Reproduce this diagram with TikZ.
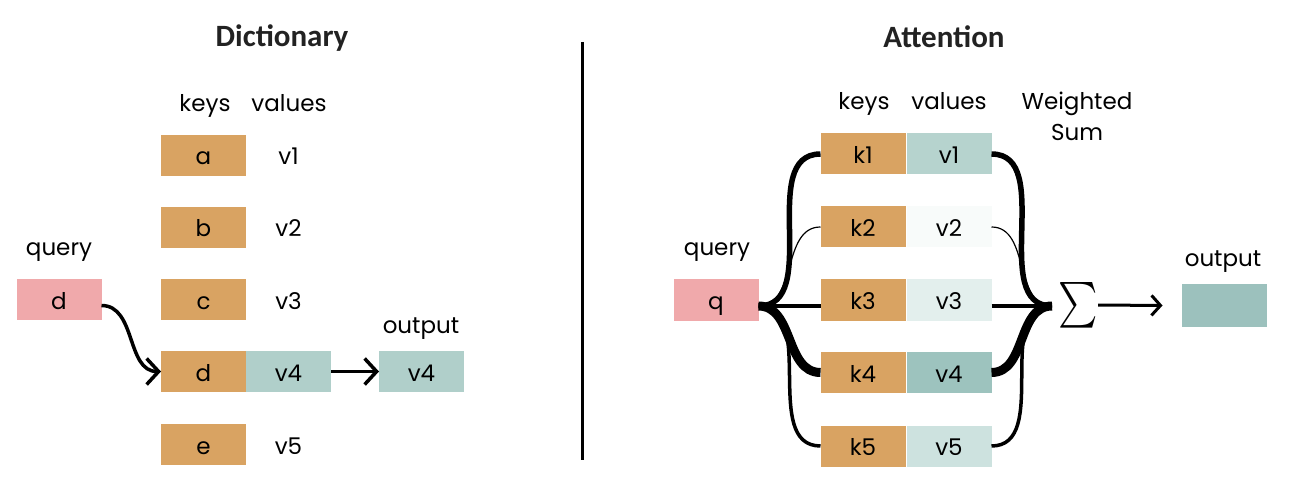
\documentclass[tikz,border=0pt]{standalone}
\usepackage{amsmath}
\usepackage{fontspec}
\setmainfont{Poppins}
\newfontfamily\titlefont{Carlito}
\usetikzlibrary{arrows.meta, positioning, calc}

\definecolor{keycol}{HTML}{D9A362}
\definecolor{querycol}{HTML}{F0A9AB}
\definecolor{valcol}{HTML}{B0CFCA}
\definecolor{vala}{HTML}{B6D3CE}
\definecolor{valb}{HTML}{F8FBFA}
\definecolor{valc}{HTML}{E3EFED}
\definecolor{vald}{HTML}{9DC3BE}
\definecolor{vale}{HTML}{CDE2DF}
\definecolor{outcol}{HTML}{9CC1BD}
\definecolor{titlecol}{HTML}{222222}

\begin{document}
\begin{tikzpicture}[x=1pt, y=-1pt,
    lbl/.style={font=\fontsize{23}{27}\selectfont},
    box/.style={lbl, minimum width=85pt, minimum height=41pt, inner sep=0pt, outer sep=0pt, text height=19pt, text depth=0pt},
    hd/.style={lbl, anchor=base},
    ttl/.style={font=\titlefont\bfseries\fontsize{31}{35}\selectfont, text=titlecol, anchor=base},
    arr/.style={-{Straight Barb[length=12pt, width=26pt]}, line width=3.5pt}]
    \useasboundingbox (0,0) rectangle (1295,478);
    % Dictionary
    \node[ttl] (dtitle) at (282,47) {Dictionary};
    \node[hd] (dkeys) at (205,112) {keys}; \node[hd] (dvals) at (289,112) {values};
    \node[box, fill=keycol] (da) at (203.5,155.5) {a}; \node[box] (dv1) at (288.5,155.5) {v1};
    \node[box, fill=keycol] (db) at (203.5,227.5) {b}; \node[box] (dv2) at (288.5,227.5) {v2};
    \node[box, fill=keycol] (dc) at (203.5,299.5) {c}; \node[box] (dv3) at (288.5,299.5) {v3};
    \node[box, fill=keycol] (dd) at (203.5,371.5) {d}; \node[box, fill=valcol] (dv4) at (288.5,371.5) {v4};
    \node[box, fill=keycol] (de) at (203.5,444.5) {e}; \node[box] (dv5) at (288.5,444.5) {v5};
    \node[hd] (dqlbl) at (59,255) {query}; \node[box, fill=querycol] (dq) at (59,299.5) {d};
    \node[hd] (dolbl) at (421,333) {output}; \node[box, fill=valcol] (dout) at (421.5,371.5) {v4};
    \draw[arr] ([yshift=-6pt]dq.east) to[out=0, in=180] (dd.west);
    \draw[arr] (dv4.east) -- (dout.west);
    % divider
    \draw[line width=3pt] (582,42) -- (582,460);
    % Attention
    \node[ttl] (atitle) at (944,48) {Attention};
    \node[hd] (akeys) at (864,110) {keys}; \node[hd] (avals) at (949,110) {values};
    \node[hd] (wlbl) at (1077,110) {Weighted}; \node[hd] (slbl) at (1077,141) {Sum};
    \node[box, fill=keycol] (k1) at (863,154) {k1}; \node[box, fill=vala] (v1) at (949,154) {v1};
    \node[box, fill=keycol] (k2) at (863,227) {k2}; \node[box, fill=valb] (v2) at (949,227) {v2};
    \node[box, fill=keycol] (k3) at (863,300) {k3}; \node[box, fill=valc] (v3) at (949,300) {v3};
    \node[box, fill=keycol] (k4) at (863,372.5) {k4}; \node[box, fill=vald] (v4) at (949,372.5) {v4};
    \node[box, fill=keycol] (k5) at (863,446) {k5}; \node[box, fill=vale] (v5) at (949,446) {v5};
    \node[hd] (aqlbl) at (717,256) {query}; \node[box, fill=querycol] (q) at (716,300) {q};
    \node[hd] (aolbl) at (1223,267) {output}; \node[box, fill=outcol, minimum height=43pt] (aout) at (1224,305.5) {};
    \coordinate (qo) at ([yshift=-6pt]q.east);
    \coordinate (sm) at (1052,306);
    \node[inner sep=0pt, font=\fontsize{22}{22}\selectfont, xscale=1.8, yscale=2.2] (sig) at (1078,305) {$\sum$};
    % query to keys
    \draw[line width=5.5pt] (qo) to[out=0, in=180] (k1.west);
    \draw[line width=1.2pt] (qo) to[out=0, in=180] (k2.west);
    \draw[line width=3.5pt] (qo) -- (qo -| k3.west);
    \draw[line width=9pt] (qo) to[out=0, in=180] (k4.west);
    \draw[line width=3.5pt] (qo) to[out=0, in=180] (k5.west);
    % values to sum
    \draw[line width=5.5pt] (v1.east) to[out=0, in=180] (sm);
    \draw[line width=1.2pt] (v2.east) to[out=0, in=180] (sm);
    \draw[line width=3.5pt] (v3.east |- sm) -- (sm);
    \draw[line width=9pt] (v4.east) to[out=0, in=180] (sm);
    \draw[line width=3.5pt] (v5.east) to[out=0, in=180] (sm);
    \draw[-{Straight Barb[length=9pt, width=20pt]}, line width=3pt] (sig.east) -- ([xshift=-19pt]aout.west);
\end{tikzpicture}
\end{document}
